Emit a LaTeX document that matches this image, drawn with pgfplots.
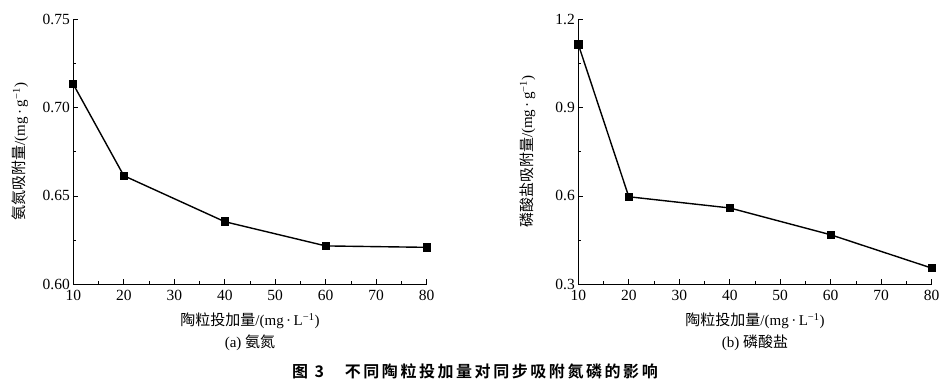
\documentclass[border=0pt]{standalone}
\usepackage{pgfplots}
\pgfplotsset{compat=1.18}
\usepackage{fontspec}
\setmainfont{Liberation Serif}
\newfontfamily\cjk{Noto Sans CJK SC}
\newfontfamily\cjkb[LetterSpace=16]{Noto Sans CJK SC Bold}
\begin{document}
\begin{tikzpicture}
\path (0,0) rectangle (948pt,384pt);
\pgfplotsset{
  every axis/.append style={
    scale only axis, width=353.4pt, height=265.3pt,
    axis lines*=left, tick align=inside,
    xmin=10, xmax=80, xtick={10,20,...,80},
    minor x tick num=1, minor y tick num=1,
    major tick length=5pt, minor tick length=3pt,
    every tick/.style={black, line width=0.6pt},
    axis line style={line width=0.8pt},
    tick label style={font=\fontsize{15.5}{18}\selectfont},
    /pgf/number format/assume math mode=true,
    xticklabel style={yshift=-2pt},
    clip=false,
  },
}
\begin{axis}[at={(73.3pt,99.7pt)}, anchor=south west,
  ymin=0.60, ymax=0.75, ytick={0.60,0.65,0.70,0.75},
  yticklabel style={/pgf/number format/.cd, fixed, fixed zerofill, precision=2},
]
\addplot[black, line width=1.4pt, mark=square*, mark size=3.5pt] coordinates {
  (10,0.7131) (20,0.6614) (40,0.6354) (60,0.6217) (80,0.6209)
};
\node[font=\fontsize{15}{18}\selectfont] at (axis description cs:0.5,-0.138) {{\cjk 陶粒投加量}/(mg\,·\,L\textsuperscript{−1})};
\node[font=\fontsize{15}{18}\selectfont] at (axis description cs:0.5,-0.222) {(a) {\cjk 氨氮}};
\node[font=\fontsize{15}{18}\selectfont, rotate=90] at (axis description cs:-0.150,0.5) {{\cjk 氨氮吸附量}/(mg\,·\,g\textsuperscript{−1})};
\end{axis}
\begin{axis}[at={(578.3pt,99.7pt)}, anchor=south west,
  ymin=0.3, ymax=1.2, ytick={0.3,0.6,0.9,1.2},
  yticklabel style={/pgf/number format/.cd, fixed, fixed zerofill, precision=1},
]
\addplot[black, line width=1.4pt, mark=square*, mark size=3.5pt] coordinates {
  (10,1.114) (20,0.597) (40,0.559) (60,0.468) (80,0.355)
};
\node[font=\fontsize{15}{18}\selectfont] at (axis description cs:0.5,-0.138) {{\cjk 陶粒投加量}/(mg\,·\,L\textsuperscript{−1})};
\node[font=\fontsize{15}{18}\selectfont] at (axis description cs:0.5,-0.222) {(b) {\cjk 磷酸盐}};
\node[font=\fontsize{15}{18}\selectfont, rotate=90] at (axis description cs:-0.144,0.5) {{\cjk 磷酸盐吸附量}/(mg\,·\,g\textsuperscript{−1})};
\end{axis}
\node[font=\fontsize{16}{19}\selectfont] at (475pt,12.3pt) {\cjkb 图\hspace{0.4em}3\hspace{1.3em}不同陶粒投加量对同步吸附氮磷的影响};
\end{tikzpicture}
\end{document}
